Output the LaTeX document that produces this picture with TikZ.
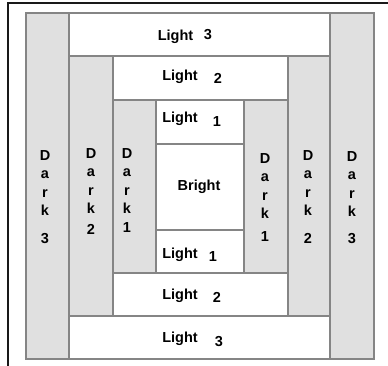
\documentclass[tikz,border=0pt]{standalone}
\usepackage{fontspec}
\setmainfont{Liberation Sans}
\definecolor{darkfill}{HTML}{E0E0E0}
\definecolor{edge}{HTML}{858585}
\begin{document}
\begin{tikzpicture}[x=1pt,y=-1pt,
  darkbox/.style={draw=edge,fill=darkfill,line width=1.4pt},
  lightbox/.style={draw=edge,fill=white,line width=1.4pt},
  lbl/.style={font=\bfseries\fontsize{14.5}{16}\selectfont,inner sep=0pt},
  vlbl/.style={font=\bfseries\fontsize{14.5}{18.5}\selectfont,inner sep=0pt,align=center,anchor=north}]
\useasboundingbox (0,0) rectangle (388,366);
\fill[white] (0,0) rectangle (388,366);
\draw[line width=2pt,black!90] (7.5,366) -- (7.5,3.5) -- (388,3.5);
% outer ring
\draw[darkbox]  (26,13)  rectangle (69,359);
\draw[lightbox] (69,13)  rectangle (330,56);
\draw[darkbox]  (330,13) rectangle (374,359);
\draw[lightbox] (69,316) rectangle (330,359);
% middle ring
\draw[darkbox]  (69,56)  rectangle (113,316);
\draw[lightbox] (113,56) rectangle (288,100);
\draw[darkbox]  (288,56) rectangle (330,316);
\draw[lightbox] (113,273) rectangle (288,316);
% inner ring
\draw[darkbox]  (113,100) rectangle (156,273);
\draw[lightbox] (156,100) rectangle (244,144);
\draw[darkbox]  (244,100) rectangle (288,273);
\draw[lightbox] (156,230) rectangle (244,273);
% centre
\draw[lightbox] (156,144) rectangle (244,230);
% light labels
\node[lbl] (l3t) at (175.5,37) {Light};
\node[lbl] (l3tn) at (208,35) {3};
\node[lbl] (l2t) at (180,77) {Light};
\node[lbl] (l2tn) at (218,78) {2};
\node[lbl] (l1t) at (180,119) {Light};
\node[lbl] (l1tn) at (217,122) {1};
\node[lbl] (br) at (199,187) {Bright};
\node[lbl] (l1b) at (180,255) {Light};
\node[lbl] (l1bn) at (213,257) {1};
\node[lbl] (l2b) at (180,296) {Light};
\node[lbl] (l2bn) at (217,297) {2};
\node[lbl] (l3b) at (180,339) {Light};
\node[lbl] (l3bn) at (219,342) {3};
% dark labels
\node[vlbl] (d3l) at (45,150) {D\\a\\r\\k\\[9pt]3};
\node[vlbl] (d2l) at (91,148) {D\\a\\r\\k\\[2pt]2};
\node[vlbl] (d1l) at (127,148) {D\\a\\r\\k\\[0pt]1};
\node[vlbl] (d1r) at (265,153) {D\\a\\r\\k\\[4pt]1};
\node[vlbl] (d2r) at (308,150) {D\\a\\r\\k\\[9pt]2};
\node[vlbl] (d3r) at (352,151) {D\\a\\r\\k\\[8pt]3};
\end{tikzpicture}
\end{document}
